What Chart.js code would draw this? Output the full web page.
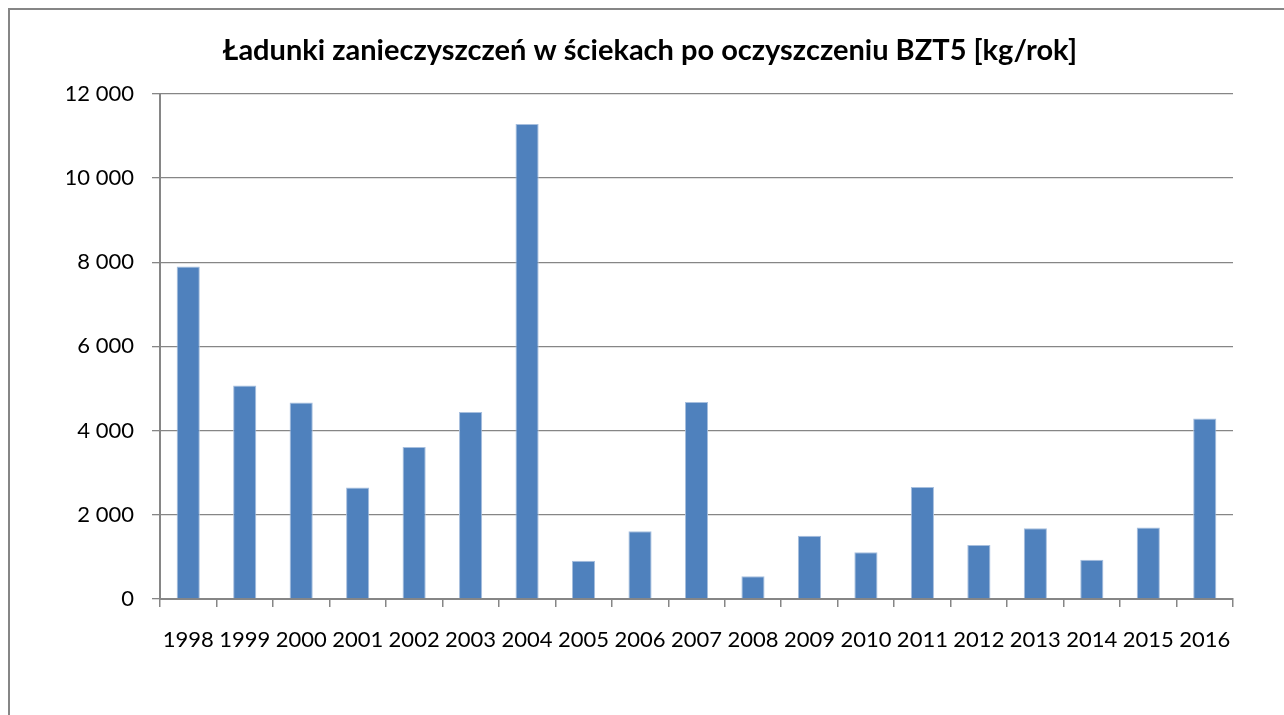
<!DOCTYPE html>
<html>
<head>
<meta charset="utf-8">
<script src="https://cdn.jsdelivr.net/npm/chart.js@4"></script>
<style>
  html, body { margin: 0; padding: 0; background: #fff; overflow: hidden; }
  canvas { display: block; }
</style>
</head>
<body>
<canvas id="myChart" width="1284" height="715"></canvas>
<script>
// data
const years = ["1998", "1999", "2000", "2001", "2002", "2003", "2004", "2005", "2006", "2007",
  "2008", "2009", "2010", "2011", "2012", "2013", "2014", "2015", "2016"];
const bzt5 = [7900, 5070, 4670, 2650, 3610, 4440, 11280, 910, 1610, 4680,
  540, 1500, 1110, 2660, 1280, 1680, 930, 1700, 4290];
const yTicks = [0, 2000, 4000, 6000, 8000, 10000, 12000];

const title = "Ładunki zanieczyszczeń w ściekach po oczyszczeniu BZT5 [kg/rok]";
const FONT = "Lato";
const GREY = "#868686";

function spaced(v) {
  return String(v).replace(/\B(?=(\d{3})+(?!\d))/g, " ");
}

// outer frame like the excel chart area
const frame = {
  id: "frame",
  beforeDraw(chart) {
    const c = chart.ctx;
    c.save();
    c.fillStyle = "#fff";
    c.fillRect(0, 0, chart.width, chart.height);
    c.strokeStyle = GREY;
    c.lineWidth = 2;
    c.strokeRect(9, 9, 1400, 900);
    c.restore();
  }
};

const ctx = document.getElementById("myChart");

new Chart(ctx, {
  type: "bar",
  data: {
    labels: years,
    datasets: [
      {
        label: "BZT5",
        data: bzt5,
        backgroundColor: "#4F81BD",
        borderColor: "#A7BFDE",
        borderWidth: 1,
        barPercentage: 0.41,
        categoryPercentage: 1,
      },
    ],
  },
  plugins: [frame],
  options: {
    responsive: false,
    animation: false,
    layout: {
      // left padding chosen so the title centres at x~650 like the original
      padding: { left: 67, right: 51, top: 0, bottom: 0 }
    },
    plugins: {
      legend: { display: false },
      tooltip: { enabled: false },
      title: {
        display: true,
        text: title,
        color: "#000",
        font: { family: FONT, size: 29, weight: "bold" },
        padding: { top: 33, bottom: 26 },
      },
    },
    scales: {
      x: {
        grid: {
          offset: true,
          drawOnChartArea: false,
          drawTicks: true,
          tickLength: 8,
          color: GREY,
          lineWidth: 1.5,
        },
        border: { color: GREY, width: 2 },
        ticks: {
          color: "#000",
          font: { family: FONT, size: 22 },
          padding: 20,
          maxRotation: 0,
          autoSkip: false,
        },
        afterFit(scale) {
          scale.height = 116;
        },
      },
      y: {
        min: 0,
        max: 12000,
        afterBuildTicks(scale) {
          scale.ticks = yTicks.map(v => ({ value: v }));
        },
        grid: {
          color: GREY,
          lineWidth: 1.3,
          tickLength: 8,
        },
        border: { color: GREY, width: 2 },
        ticks: {
          color: "#000",
          font: { family: FONT, size: 22 },
          padding: 18,
          callback: v => spaced(v),
        },
        afterFit(scale) {
          scale.width = 93;
        },
      },
    },
  },
});
</script>
</body>
</html>
